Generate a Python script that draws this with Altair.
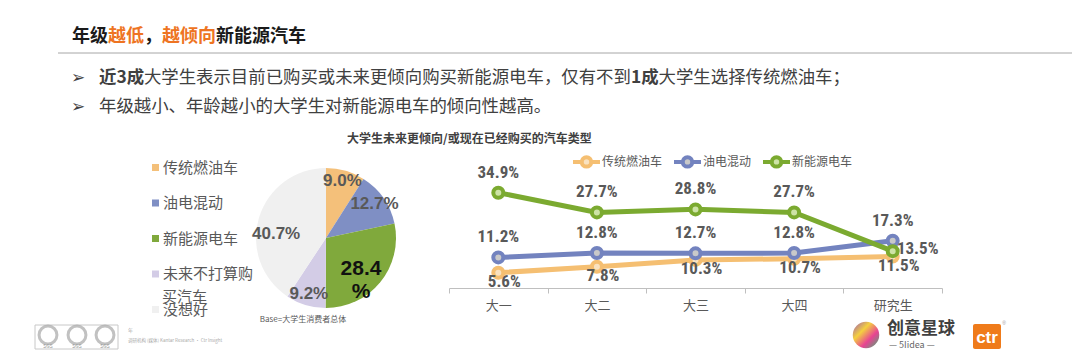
import altair as alt
import pandas as pd

# ---------------- data ----------------
title_parts = ["年级", "越低", "，", "越倾向", "新能源汽车"]
title_hl = [False, True, False, True, False]
bullet1_parts = ["近3成", "大学生表示目前已购买或未来更倾向购买新能源电车，仅有不到", "1成", "大学生选择传统燃油车；"]
bullet1_bold = [True, False, True, False]
bullet2 = "年级越小、年龄越小的大学生对新能源电车的倾向性越高。"
chart_title = "大学生未来更倾向/或现在已经购买的汽车类型"
base_note = "Base=大学生消费者总体"

pie_cats = ["传统燃油车", "油电混动", "新能源电车", "未来不打算购买汽车", "没想好"]
pie_vals = [9.0, 12.7, 28.4, 9.2, 40.7]
pie_colors = ["#F4C07A", "#7F8FC4", "#80A93C", "#D3CCE6", "#F0F0F0"]

grades = ["大一", "大二", "大三", "大四", "研究生"]
series = ["传统燃油车", "油电混动", "新能源电车"]
fuel = [5.6, 7.8, 10.3, 10.7, 11.5]
hybrid = [11.2, 12.8, 12.7, 12.8, 17.3]
ev = [34.9, 27.7, 28.8, 27.7, 13.5]
line_colors = ["#F5BF72", "#7383BF", "#7BAA30"]
point_fills = ["#F9E2C0", "#C9C9C9", "#CDE3A6"]

# ---------------- style ----------------
FONT = "Noto Sans CJK SC"
NUMFONT = "'Liberation Sans Narrow', 'Roboto Condensed', 'DejaVu Sans Condensed', Roboto, sans-serif"
ARIAL = "'Liberation Sans', Arial, sans-serif"
W, H = 1064, 342
ORANGE = "#EE7422"
DARK = "#404040"
GREY = "#595959"
BFS = 17.4


def tw(s, fs, bold=False):
    w = 0.0
    for ch in s:
        if ord(ch) < 128:
            w += (0.58 if bold else 0.55) * fs
        else:
            w += fs
    return w


one = alt.Data(values=[{"a": 1}])


def txt(s, x, y, size, color, weight="normal", align="left", font=FONT, baseline="middle"):
    return alt.Chart(one).mark_text(
        text=s, align=align, baseline=baseline, fontSize=size, color=color,
        fontWeight=weight, font=font
    ).encode(x=alt.value(x), y=alt.value(y))


layers = []

# title
x0 = 64
for part, hl in zip(title_parts, title_hl):
    layers.append(txt(part, x0, 29, 18, ORANGE if hl else "#1A1A1A", "bold"))
    x0 += tw(part, 18, True)
layers.append(alt.Chart(one).mark_rule(color="#A6A6A6", strokeWidth=1).encode(
    x=alt.value(50), x2=alt.value(W), y=alt.value(45)))

# bullets
layers.append(txt("➢", 63, 70, 17, DARK, font="DejaVu Sans"))
layers.append(txt("➢", 63, 99, 17, DARK, font="DejaVu Sans"))
x0 = 91
for part, b in zip(bullet1_parts, bullet1_bold):
    layers.append(txt(part, x0, 70, BFS, DARK, "bold" if b else "normal"))
    x0 += tw(part, BFS, b)
layers.append(txt(bullet2, 91, 99, BFS, DARK))

# chart title
layers.append(txt(chart_title, 339, 131, 12, DARK, "bold"))

# ---------------- pie ----------------
CX, CY = 318, 230
pie_df = pd.DataFrame({"cat": pie_cats, "value": pie_vals, "ord": list(range(len(pie_cats)))})
pie_base = alt.Chart(pie_df).encode(
    theta=alt.Theta("value:Q", stack=True),
    order=alt.Order("ord:Q"),
).transform_calculate(lab="format(datum.value, '.1f') + '%'")

arc = pie_base.mark_arc(outerRadius=70, x=CX, y=CY).encode(
    color=alt.Color(
        "cat:N",
        scale=alt.Scale(domain=pie_cats, range=pie_colors),
        legend=alt.Legend(
            orient="none", legendX=140, legendY=152, title=None, padding=0,
            symbolType="square", symbolSize=49, symbolStrokeWidth=0,
            labelFontSize=15, labelColor=GREY, labelFont=FONT, labelOffset=0,
            rowPadding=19.5, labelLimit=300,
            labelExpr="datum.label == '未来不打算购买汽车' ? '未来不打算购' : datum.label",
        ),
    )
)
lab_main = pie_base.transform_calculate(
    t="(datum.cat == '新能源电车' || datum.cat == '没想好') ? '' : datum.lab"
).mark_text(radius=59, x=CX, y=CY, fontSize=17, fontWeight="bold", color=GREY, font=ARIAL).encode(text="t:N")
lab_ev = pie_base.transform_calculate(
    t="datum.cat == '新能源电车' ? format(datum.value, '.1f') + '\\n%' : ''"
).mark_text(radius=53, x=CX, y=CY, dx=-6, dy=-3, fontSize=21, fontWeight="bold", color="#111111",
            font=ARIAL, lineBreak="\n", lineHeight=23).encode(text="t:N")
lab_none = pie_base.transform_calculate(
    t="datum.cat == '没想好' ? datum.lab : ''"
).mark_text(radius=50, x=CX, y=CY, dx=-2, dy=10, fontSize=17, fontWeight="bold", color=GREY,
            font=ARIAL).encode(text="t:N")
pie = alt.layer(arc, lab_main, lab_ev, lab_none)

layers.append(txt("买汽车", 154, 289, 15, GREY))
layers.append(txt(base_note, 295, 312, 8, GREY, align="center"))

# ---------------- lines ----------------
rows = []
for s, vals in zip(series, [fuel, hybrid, ev]):
    for g, v in zip(grades, vals):
        rows.append({"grade": g, "series": s, "value": v})
line_df = pd.DataFrame(rows)

xenc = alt.X(
    "grade:N", sort=grades,
    scale=alt.Scale(type="band", domain=grades, range=[441, 934], paddingInner=0, paddingOuter=0),
    axis=alt.Axis(
        title=None, orient="bottom", offset=-62, grid=False, labelAngle=0,
        domainColor="#BFBFBF", tickColor="#BFBFBF", tickSize=5, tickBand="extent",
        labelFontSize=13, labelColor=GREY, labelFont=FONT, labelPadding=6,
    ),
)
yenc = alt.Y("value:Q", scale=alt.Scale(domain=[0, 40], range=[280, 170.8]), axis=None)

lbase = alt.Chart(line_df).encode(x=xenc, y=yenc)
LEG_PATH = "M-1,0L-0.35,0M0.35,0L1,0M0.35,0A0.35,0.35,0,1,1,-0.35,0A0.35,0.35,0,1,1,0.35,0Z"
lines = lbase.mark_line(strokeWidth=5).encode(
    color=alt.Color(
        "series:N",
        scale=alt.Scale(domain=series, range=line_colors),
        legend=alt.Legend(
            orient="none", legendX=563, legendY=138, direction="horizontal", title=None,
            padding=0, symbolType=LEG_PATH, symbolSize=729, symbolStrokeWidth=4,
            labelFontSize=12, labelColor=GREY, labelFont=FONT, labelOffset=0,
            columnPadding=3, gridAlign="each", labelLimit=200,
        ),
    ),
    detail="series:N",
)
points = lbase.mark_point(filled=True, size=100, strokeWidth=4, opacity=1, shape="circle").encode(
    fill=alt.Fill("series:N", scale=alt.Scale(domain=series, range=point_fills), legend=None),
    stroke=alt.Stroke("series:N", scale=alt.Scale(domain=series, range=line_colors), legend=None),
)
tbase = lbase.transform_calculate(lab="format(datum.value, '.1f') + '%'")
tstyle = dict(fontSize=17, fontWeight="bold", color=GREY, font=NUMFONT)
t_ev = tbase.transform_filter("datum.series == '新能源电车' && datum.grade != '研究生'").mark_text(
    dy=-20, **tstyle).encode(text="lab:N")
t_ev_last = tbase.transform_filter("datum.series == '新能源电车' && datum.grade == '研究生'").mark_text(
    dx=25, dy=-2, **tstyle).encode(text="lab:N")
t_hy = tbase.transform_filter("datum.series == '油电混动'").mark_text(
    dy=-20, **tstyle).encode(text="lab:N")
t_fu = tbase.transform_filter("datum.series == '传统燃油车'").mark_text(
    dx=6, dy=9, **tstyle).encode(text="lab:N")
linechart = alt.layer(lines, points, t_fu, t_hy, t_ev, t_ev_last)

# ---------------- logos ----------------
logo = []
logo.append(alt.Chart(one).mark_rect(fill=None, stroke="#C8C8C8", strokeWidth=1).encode(
    x=alt.value(27), x2=alt.value(110), y=alt.value(317), y2=alt.value(341)))
for cx in [40, 69, 97]:
    logo.append(alt.Chart(one).mark_point(shape="circle", size=320, strokeWidth=3, color="#A8A8A8",
                                          filled=False).encode(x=alt.value(cx), y=alt.value(327)))
    logo.append(txt("SGS", cx, 338, 5, "#999999", align="center"))
logo.append(txt("年", 120, 322, 5, "#AAAAAA"))
logo.append(txt("调研机构 (媒体) Kantar Research · Ctr Insight", 120, 333, 4.5, "#AAAAAA"))
logo.append(alt.Chart(one).mark_circle(size=700, opacity=1, color=alt.LinearGradient(
    gradient="linear", x1=0, y1=0, x2=1, y2=1,
    stops=[alt.GradientStop(color="#9B59B6", offset=0), alt.GradientStop(color="#F4D03F", offset=0.35),
           alt.GradientStop(color="#E84393", offset=0.65), alt.GradientStop(color="#3CB371", offset=1)]
)).encode(x=alt.value(858), y=alt.value(327)))
logo.append(txt("创意星球", 879, 321, 17, DARK, "bold"))
logo.append(txt("— 5Iidea —", 881, 337, 9, "#666666"))
logo.append(alt.Chart(one).mark_rect(fill="#EF7B1A", cornerRadius=2).encode(
    x=alt.value(965), x2=alt.value(993), y=alt.value(316), y2=alt.value(341)))
logo.append(txt("ctr", 979, 330, 17, "white", "bold", align="center", font=ARIAL))
logo.append(txt("®", 996, 315, 5, "#999999", align="center", font=ARIAL))

chart = alt.layer(*layers, pie, linechart, *logo).resolve_scale(
    color="independent", fill="independent", stroke="independent", theta="independent"
).properties(
    width=W, height=H, padding=0, autosize=alt.AutoSizeParams(type="none"),
    background="white",
).configure_view(stroke=None)

chart.save("out.html", embed_options={"renderer": "svg", "actions": False})
